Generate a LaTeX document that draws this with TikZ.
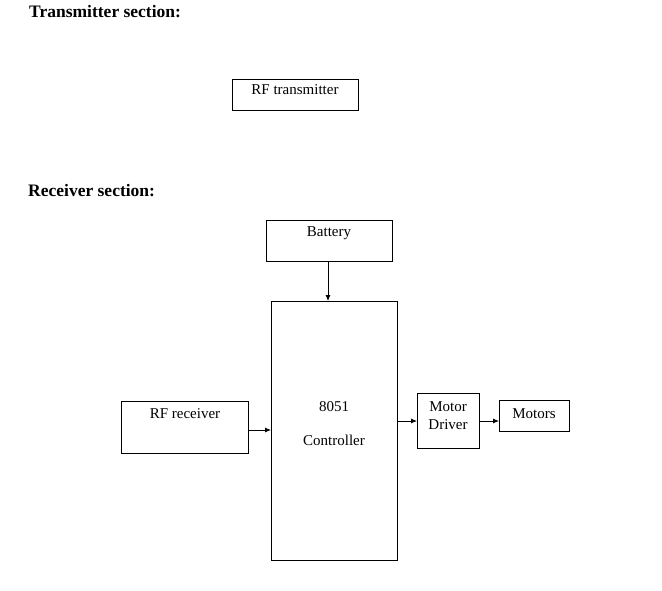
\documentclass[tikz,border=0pt]{standalone}
\usepackage{fontspec}
\setmainfont{Liberation Serif}
\usetikzlibrary{arrows.meta}
\begin{document}
\begin{tikzpicture}[x=1pt,y=-1pt,
  box/.style={draw,line width=0.8pt},
  lab/.style={font=\fontsize{15}{18}\selectfont,inner sep=0pt,align=center},
  arr/.style={-{Latex[length=6pt,width=5pt]},line width=0.8pt},
  head/.style={font=\bfseries\fontsize{17.5}{20}\selectfont,anchor=west,inner sep=0pt}]
\useasboundingbox (0,0) rectangle (662,590);
\node[head] (h1) at (29,12) {Transmitter section:};
\node[head] (h2) at (28,191) {Receiver section:};
\draw[box] (232,79) rectangle (358,110);
\node[lab] (tx) at (295,90) {RF transmitter};
\draw[box] (266,220) rectangle (392,261);
\node[lab] (bt) at (329,233) {Battery};
\coordinate (btb) at (328,261);
\draw[box] (271,301) rectangle (397,560);
\coordinate (ct) at (328,301);
\coordinate (cl) at (271,430);
\coordinate (cr) at (397,421);
\node[lab] (c1) at (334,407) {8051};
\node[lab] (c2) at (334,440) {Controller};
\draw[box] (121,401) rectangle (248,453);
\node[lab] (rx) at (185,414) {RF receiver};
\coordinate (rxr) at (248,430);
\draw[box] (417,393) rectangle (479,448);
\node[lab] (md1) at (448,407) {Motor};
\node[lab] (md2) at (448,425) {Driver};
\coordinate (mdl) at (417,421);
\coordinate (mdr) at (479,421);
\draw[box] (499,400) rectangle (569,431);
\node[lab] (mo) at (534,414) {Motors};
\coordinate (mol) at (499,421);
\draw[arr] (btb) -- (ct);
\draw[arr] (rxr) -- (cl);
\draw[arr] (cr) -- (mdl);
\draw[arr] (mdr) -- (mol);
\end{tikzpicture}
\end{document}
